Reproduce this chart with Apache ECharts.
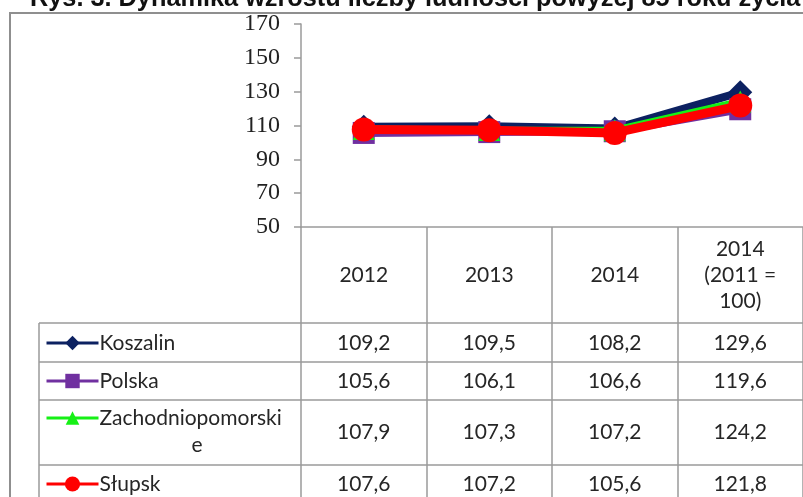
<!DOCTYPE html>
<html>
<head>
<meta charset="utf-8">
<script src="https://cdn.jsdelivr.net/npm/echarts@6/dist/echarts.min.js"></script>
<style>
  html, body { margin: 0; padding: 0; background: #fff; }
  #chart { width: 803px; height: 497px; }
</style>
</head>
<body>
<div id="chart"></div>
<script>
// data
const categories = ['2012', '2013', '2014', '2014\n(2011 =\n100)']
const seriesNames = ['Koszalin', 'Polska', 'Zachodniopomorskie', 'Słupsk']
const koszalin = [109.2, 109.5, 108.2, 129.6]
const polska = [105.6, 106.1, 106.6, 119.6]
const zachodniopomorskie = [107.9, 107.3, 107.2, 124.2]
const slupsk = [107.6, 107.2, 105.6, 121.8]
const yMin = 50
const yMax = 170
const yStep = 20
const title = 'Rys. 3. Dynamika wzrostu liczby ludności powyżej 85 roku życia'

const allData = [koszalin, polska, zachodniopomorskie, slupsk]
const colors = ['#0c2161', '#7030a0', '#16f016', '#ff0000']
const symbols = ['diamond', 'rect', 'triangle', 'circle']
const symbolSizes = [24, 22, 22, 24]
const lineWidths = [8, 8, 7, 9]
const legendSymbolSizes = [18, 18, 17, 19]

// table layout
const rowCenters = [343, 381, 432, 484]
const legendCenters = [343, 381, 418, 484]
const rowLines = [323, 362, 400, 465]
const tableFont = '21px Lato'
const gridColor = '#9a9a9a'

const myChart = echarts.init(document.getElementById('chart'))

const fmt = v => v.toFixed(1).replace('.', ',')

const legends = seriesNames.map((name, i) => ({
  data: [name],
  left: 45,
  top: legendCenters[i] - 12,
  padding: 0,
  itemWidth: 52,
  itemHeight: legendSymbolSizes[i],
  selectedMode: false,
  formatter: n => (n === 'Zachodniopomorskie' ? 'Zachodniopomorski' : n),
  lineStyle: { width: 3 },
  textStyle: {
    fontFamily: 'Lato',
    fontSize: 21,
    color: '#262626',
    lineHeight: 24,
    padding: [0, 0, 0, -4]
  }
}))

myChart.setOption({
  animation: false,
  legend: legends,
  grid: {
    left: 301,
    top: 24,
    width: 509,
    height: 203
  },
  xAxis: {
    type: 'category',
    data: categories,
    boundaryGap: true,
    axisLine: { lineStyle: { color: gridColor, width: 1.5 } },
    axisTick: {
      show: true,
      interval: 0,
      length: 290,
      lineStyle: { color: gridColor, width: 1.5 }
    },
    axisLabel: {
      interval: 0,
      margin: 48,
      verticalAlign: 'middle',
      lineHeight: 26,
      fontFamily: 'Lato',
      fontSize: 21,
      color: '#262626'
    }
  },
  yAxis: {
    type: 'value',
    min: yMin,
    max: yMax,
    interval: yStep,
    axisLine: { show: true, lineStyle: { color: gridColor, width: 1.5 } },
    axisTick: { show: true, length: 7, lineStyle: { color: gridColor, width: 1.5 } },
    splitLine: { show: false },
    axisLabel: {
      margin: 21,
      fontFamily: 'Liberation Serif',
      fontSize: 24,
      color: '#222'
    }
  },
  series: seriesNames.map((name, i) => ({
    name: name,
    type: 'line',
    data: allData[i],
    color: colors[i],
    symbol: symbols[i],
    symbolSize: symbolSizes[i],
    showAllSymbol: true,
    lineStyle: { width: lineWidths[i], color: colors[i] },
    itemStyle: { color: colors[i] },
    z: 2 + i
  }))
})

// frame, title and table drawn around the axes
const elements = [
  {
    type: 'rect',
    shape: { x: 10, y: 13, width: 820, height: 500 },
    style: { fill: null, stroke: '#8f8f8f', lineWidth: 2 },
    silent: true,
    z: 0
  },
  {
    type: 'text',
    x: 30,
    y: -1,
    style: {
      text: title,
      font: 'bold 25.3px "Liberation Sans"',
      fill: '#111',
      verticalAlign: 'middle'
    },
    z: 10
  },
  {
    type: 'line',
    shape: { x1: 39, y1: 323, x2: 39, y2: 520 },
    style: { stroke: gridColor, lineWidth: 1.5 }
  }
]
rowLines.forEach(y => {
  elements.push({
    type: 'line',
    shape: { x1: 39, y1: y, x2: 820, y2: y },
    style: { stroke: gridColor, lineWidth: 1.5 }
  })
})
elements.push({
  type: 'text',
  x: 197,
  y: 445,
  style: { text: 'e', font: tableFont, fill: '#262626', align: 'center', verticalAlign: 'middle' }
})
allData.forEach((values, r) => {
  values.forEach((v, c) => {
    const px = myChart.convertToPixel({ xAxisIndex: 0 }, c)
    elements.push({
      type: 'text',
      x: px,
      y: rowCenters[r],
      style: { text: fmt(v), font: tableFont, fill: '#262626', align: 'center', verticalAlign: 'middle' }
    })
  })
})

myChart.setOption({ graphic: { elements: elements } })
</script>
</body>
</html>
